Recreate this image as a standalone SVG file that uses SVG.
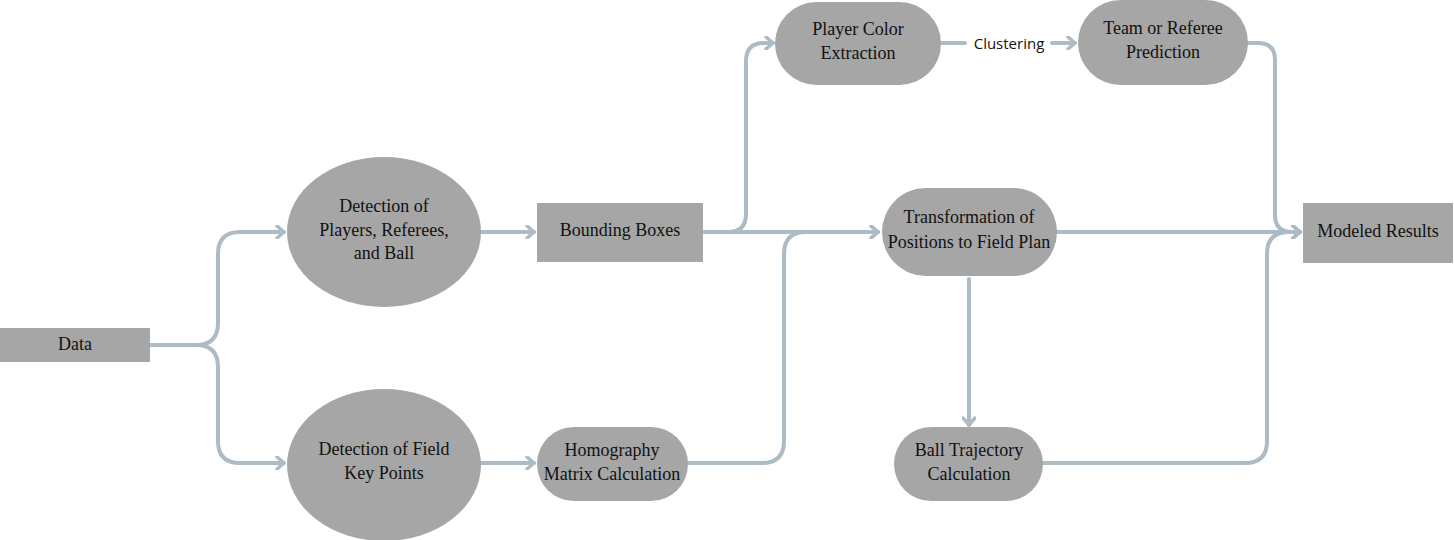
<svg xmlns="http://www.w3.org/2000/svg" width="1454" height="540" viewBox="0 0 1454 540">
<style>
.n{fill:#a6a6a6}
.t{font-family:"Liberation Serif","Times New Roman",serif;font-size:18px;fill:#111;text-anchor:middle}
.c{fill:none;stroke:#adbbc4;stroke-width:4;stroke-linecap:round;stroke-linejoin:round}
.lbl{font-family:"Open Sans","Noto Sans",sans-serif;font-size:15px;fill:#111;text-anchor:middle}
</style>
<defs>
<marker id="ar" markerUnits="userSpaceOnUse" viewBox="0 0 14 14" markerWidth="14" markerHeight="14" refX="12" refY="7" orient="auto">
<path d="M5,1 L12,7 L5,13" fill="none" stroke="#adbbc4" stroke-width="3.5" stroke-linecap="round" stroke-linejoin="round"/>
</marker>
</defs>
<rect width="1454" height="540" fill="#fff"/>
<g id="connectors">
<path class="c" d="M150,345 H196 Q218,345 218,323 V254 Q218,232 240,232 H284" marker-end="url(#ar)"/>
<path class="c" d="M150,345 H196 Q218,345 218,367 V441 Q218,463 240,463 H284" marker-end="url(#ar)"/>
<path class="c" d="M481,232 H534" marker-end="url(#ar)"/>
<path class="c" d="M481,463 H534" marker-end="url(#ar)"/>
<path class="c" d="M703,232 H728 Q746,232 746,214 V61 Q746,43 764,43 H773" marker-end="url(#ar)"/>
<path class="c" d="M703,232 H878" marker-end="url(#ar)"/>
<path class="c" d="M688,463 H762 Q784,463 784,441 V254 Q784,232 806,232 H878" marker-end="url(#ar)"/>
<path class="c" d="M942,43 H965"/>
<path class="c" d="M1052,43 H1075" marker-end="url(#ar)"/>
<path class="c" d="M1248,43 H1258 Q1275,43 1275,60 V215 Q1275,232 1292,232 H1300" marker-end="url(#ar)"/>
<path class="c" d="M1057,232 H1300" marker-end="url(#ar)"/>
<path class="c" d="M1043,463 H1245 Q1267,463 1267,441 V254 Q1267,232 1289,232 H1300" marker-end="url(#ar)"/>
<path class="c" d="M969,279 V425" marker-end="url(#ar)"/>
<text class="lbl" x="1009" y="49">Clustering</text>
</g>
<g id="data"><rect class="n" x="0" y="328" width="150" height="34"/><text class="t" x="75" y="350">Data</text></g>
<g id="detect-players"><ellipse class="n" cx="384" cy="232" rx="97" ry="75"/>
<text class="t" x="384" y="212">Detection of</text><text class="t" x="384" y="236">Players, Referees,</text><text class="t" x="384" y="259">and Ball</text></g>
<g id="detect-field"><ellipse class="n" cx="384" cy="465" rx="97" ry="76"/>
<text class="t" x="384" y="455">Detection of Field</text><text class="t" x="384" y="479">Key Points</text></g>
<g id="bounding-boxes"><rect class="n" x="537" y="203" width="166" height="59"/><text class="t" x="620" y="236">Bounding Boxes</text></g>
<g id="homography"><rect class="n" x="537" y="427" width="151" height="74" rx="37"/>
<text class="t" x="612" y="456">Homography</text><text class="t" x="612" y="480">Matrix Calculation</text></g>
<g id="player-color"><rect class="n" x="775" y="2" width="166" height="83" rx="41.5"/>
<text class="t" x="858" y="35">Player Color</text><text class="t" x="858" y="59">Extraction</text></g>
<g id="team-referee"><rect class="n" x="1078" y="0" width="170" height="85" rx="42.5"/>
<text class="t" x="1163" y="34">Team or Referee</text><text class="t" x="1163" y="58">Prediction</text></g>
<g id="transformation"><rect class="n" x="882" y="188" width="175" height="88" rx="44"/>
<text class="t" x="969" y="223">Transformation of</text><text class="t" x="969" y="248">Positions to Field Plan</text></g>
<g id="ball-trajectory"><rect class="n" x="894" y="427" width="149" height="74" rx="37"/>
<text class="t" x="969" y="456">Ball Trajectory</text><text class="t" x="969" y="480">Calculation</text></g>
<g id="modeled-results"><rect class="n" x="1303" y="203" width="150" height="60"/><text class="t" x="1378" y="237">Modeled Results</text></g>
</svg>
